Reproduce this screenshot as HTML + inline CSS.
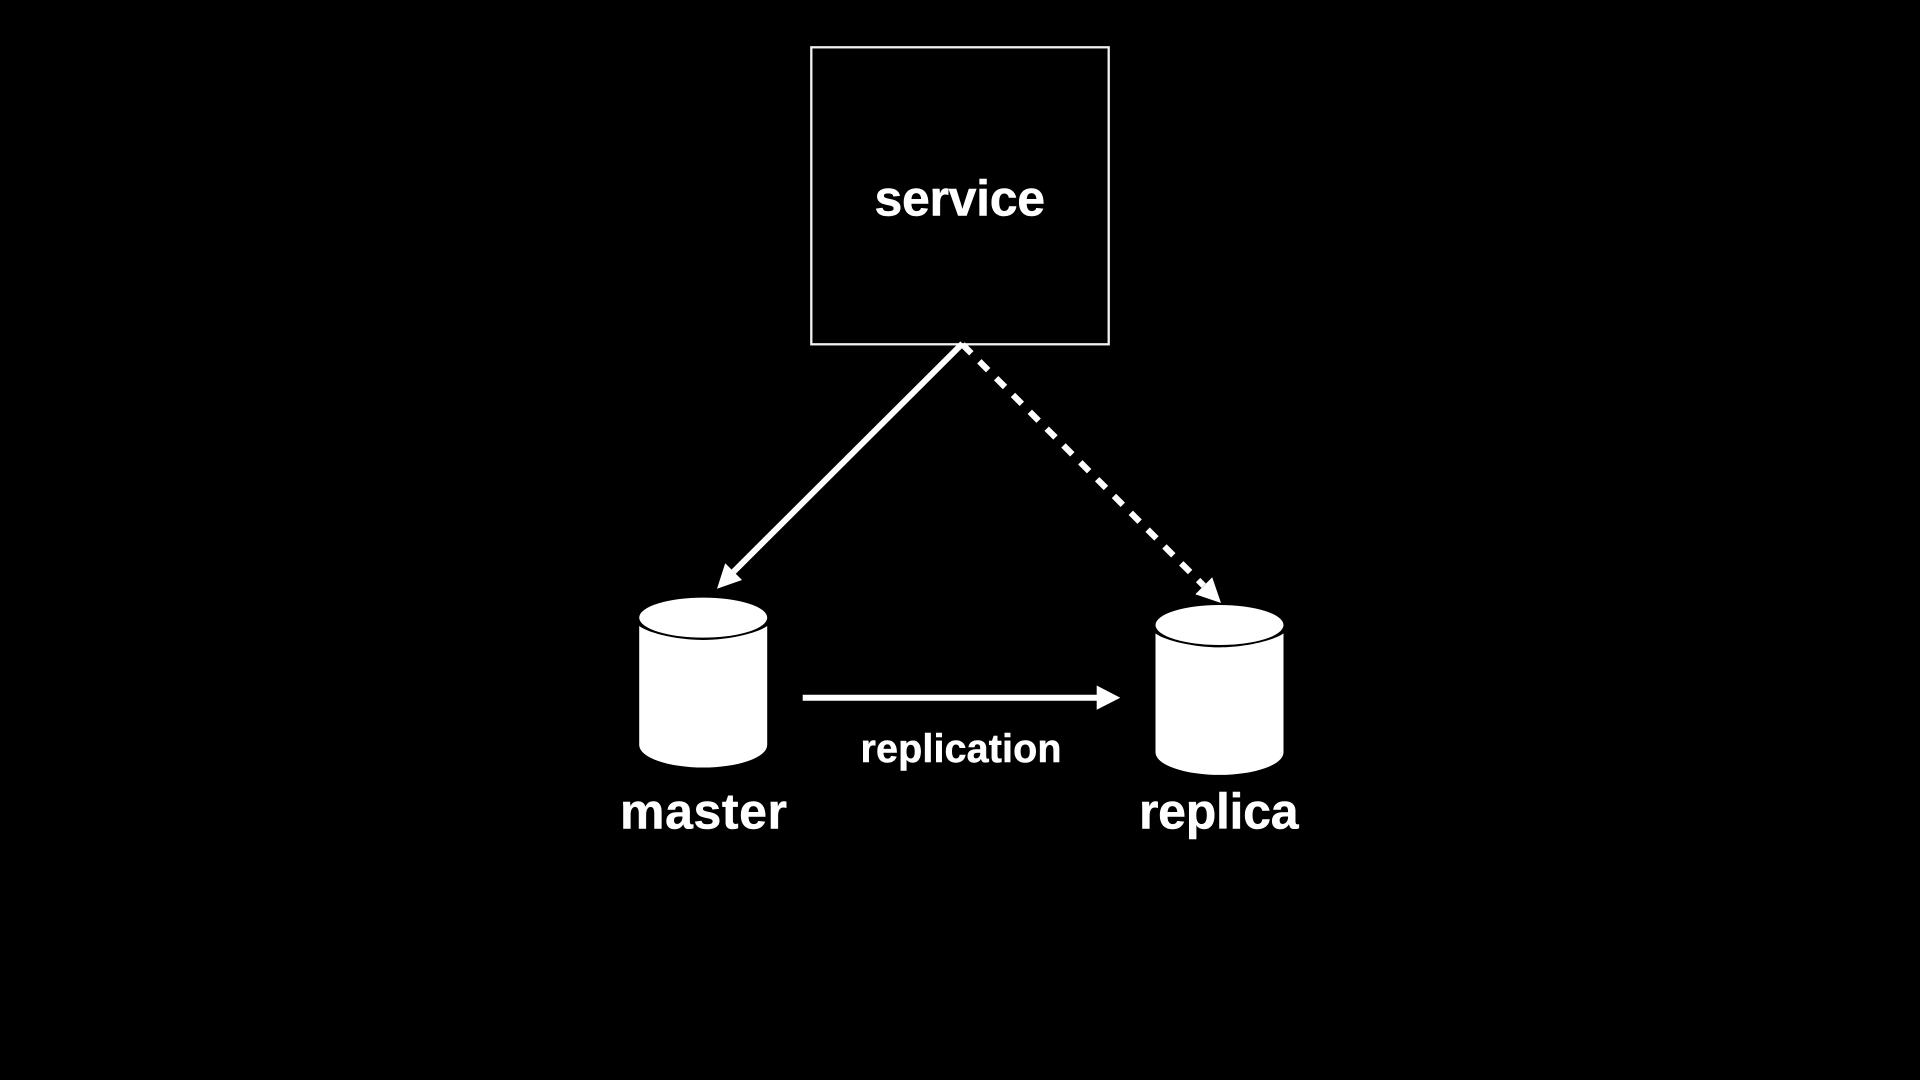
<!DOCTYPE html>
<html>
<head>
<meta charset="utf-8">
<style>
html,body{margin:0;padding:0;background:#000;width:1920px;height:1080px;overflow:hidden}
svg{display:block}
text{font-family:"Liberation Sans",Arial,sans-serif;font-weight:700;fill:#fff;stroke:#fff;stroke-width:.5px}
</style>
</head>
<body>
<svg width="1920" height="1080" viewBox="0 0 1920 1080" xmlns="http://www.w3.org/2000/svg">
<rect width="1920" height="1080" fill="#000"/>
<rect x="811.3" y="47.3" width="297.4" height="297" fill="none" stroke="#f2f2f2" stroke-width="2.3"/>
<text x="874.5" y="215.3" font-size="50" textLength="170.5" lengthAdjust="spacing">service</text>

<line x1="962.5" y1="343.5" x2="733.6" y2="571.7" stroke="#fff" stroke-width="6"/>
<polygon points="717,588.8 725.2,563.2 742,580" fill="#fff"/>

<line x1="962.5" y1="344.5" x2="1203.7" y2="585.7" stroke="#fff" stroke-width="6.2" stroke-dasharray="12.5 11.3"/>
<polygon points="1221,603 1195.3,594.2 1212.2,577.3" fill="#fff"/>

<line x1="802.7" y1="697.7" x2="1097.5" y2="697.7" stroke="#fff" stroke-width="6"/>
<polygon points="1120.3,697.7 1096.7,685.5 1096.7,709.7" fill="#fff"/>
<text x="860.5" y="762" font-size="39.5" textLength="201" lengthAdjust="spacing">replication</text>

<path d="M639.2,626 C650,634 680,640 703.2,640 C726,640 756,634 767.2,626 V745 A64 22.5 0 0 1 639.2,745 Z" fill="#fff"/>
<ellipse cx="703.2" cy="617.6" rx="64" ry="20" fill="#fff"/>
<text x="620" y="828.3" font-size="50" textLength="167" lengthAdjust="spacing">master</text>

<path d="M1155.5,633.4 C1166.3,641.4 1196.3,647.4 1219.5,647.4 C1242.3,647.4 1272.3,641.4 1283.5,633.4 V752.4 A64 22.5 0 0 1 1155.5,752.4 Z" fill="#fff"/>
<ellipse cx="1219.5" cy="625" rx="64" ry="20" fill="#fff"/>
<text x="1139" y="828.3" font-size="50" textLength="159.5" lengthAdjust="spacing">replica</text>
</svg>
</body>
</html>
